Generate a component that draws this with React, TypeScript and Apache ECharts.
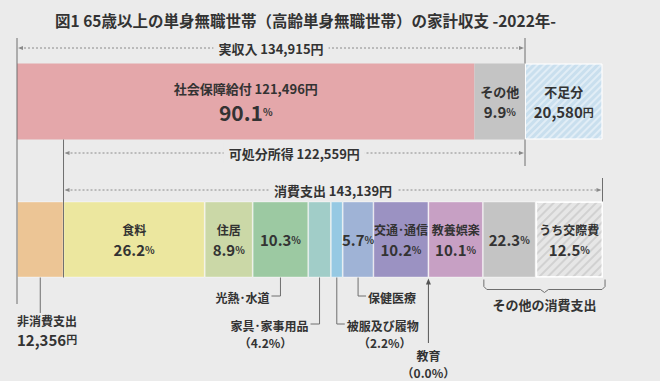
import React, { useEffect, useRef } from 'react';
import * as echarts from 'echarts';

// ---------- data ----------
const titleText = '図1 65歳以上の単身無職世帯（高齢単身無職世帯）の家計収支 -2022年-';
const rows = ['収入', '支出'];

const actualIncome = 134915;
const incomeNames = ['社会保障給付', 'その他', '不足分'];
const incomeValues = [121496, 13419, 20580];
const incomeShares = [90.1, 9.9];

const nonConsumption = 12356;
const disposableIncome = 122559;
const consumptionTotal = 143139;
const consumptionNames = ['食料', '住居', '光熱・水道', '家具・家事用品', '被服及び履物', '保健医療', '交通・通信', '教育', '教養娯楽', 'その他の消費支出'];
const consumptionShares = [26.2, 8.9, 10.3, 4.2, 2.2, 5.7, 10.2, 0.0, 10.1, 22.3];
const socialShare = 12.5; // うち交際費

// ---------- styles ----------
const FONT = '"Noto Sans CJK JP", "Noto Sans", sans-serif';
const BG = '#ebebeb';
const TXT = '#333333';
const LINE = '#6e6e6e';
const incomeColors = ['#e4a7aa', '#c4c4c4', '#c9dfee'];
const consumptionColors = ['#ece79f', '#cbd8a7', '#9cc9a2', '#a1cdc8', '#96c9e3', '#9fb3d6', '#9b92c2', '#b0b0b0', '#c7a0c4', '#c4c4c4'];
const nonConsColor = '#ecc595';
const socialColor = '#e6e6e6';
const BAR = 76;

const fmt = (n: number) => n.toLocaleString('en-US');

const rich = {
  n: { fontSize: 12, fontWeight: 'bold', color: TXT, fontFamily: FONT, lineHeight: 19 },
  v: { fontSize: 15, fontWeight: 'bold', color: TXT, fontFamily: FONT, lineHeight: 20 },
  b: { fontSize: 21, fontWeight: 'bold', color: TXT, fontFamily: FONT, lineHeight: 26 },
  p: { fontSize: 10, fontWeight: 'bold', color: TXT, fontFamily: FONT },
  t: { fontSize: 13, fontWeight: 'bold', color: TXT, fontFamily: FONT, lineHeight: 20 },
  y: { fontSize: 11, fontWeight: 'bold', color: TXT, fontFamily: FONT },
};

const pctLabel = (name: string | null, v: number) =>
  (name ? `{n|${name}}\n` : '') + `{v|${v.toFixed(1)}}{p|%}`;

export default function App() {
  const ref = useRef<HTMLDivElement>(null);
  useEffect(() => {
    if (!ref.current) return;
    const chart = echarts.init(ref.current, null, { renderer: 'svg' });

    const series: any[] = [];
    const mk = (name: string, data: any[], color: string, label: string | null, extra: any = {}) => ({
      type: 'bar',
      name,
      stack: 'total',
      barWidth: BAR,
      data,
      itemStyle: { color, borderColor: 'rgba(255,255,255,0.55)', borderWidth: 0.8, ...(extra.itemStyle || {}) },
      label: label
        ? { show: true, position: 'inside', formatter: label, rich, fontFamily: FONT }
        : { show: false },
      emphasis: { disabled: true },
      silent: true,
    });

    // income row
    series.push(mk(incomeNames[0], [incomeValues[0], '-'], incomeColors[0],
      `{t|${incomeNames[0]} ${fmt(incomeValues[0])}円}\n{b|${incomeShares[0].toFixed(1)}}{p|%}`,
      { itemStyle: { borderWidth: 0 } }));
    series.push(mk(incomeNames[1], [incomeValues[1], '-'], incomeColors[1],
      `{t|${incomeNames[1]}}\n{v|${incomeShares[1].toFixed(1)}}{p|%}`, { itemStyle: { borderWidth: 0 } }));
    series.push(mk(incomeNames[2], [incomeValues[2], '-'], incomeColors[2],
      `{t|${incomeNames[2]}}\n{v|${fmt(incomeValues[2])}}{y|円}`,
      {
        itemStyle: {
          borderWidth: 1, borderColor: 'rgba(255,255,255,0.7)',
          decal: { symbol: 'rect', symbolSize: 1, dashArrayX: [1, 0], dashArrayY: [2, 3], rotation: -Math.PI / 4, color: 'rgba(255,255,255,0.45)' },
        },
      }));

    // expenditure row
    series.push(mk('非消費支出', ['-', nonConsumption], nonConsColor, null));
    const insideLabels: Record<string, string | null> = {
      '食料': pctLabel('食料', consumptionShares[0]),
      '住居': pctLabel('住居', consumptionShares[1]),
      '光熱・水道': pctLabel(null, consumptionShares[2]),
      '保健医療': pctLabel(null, consumptionShares[5]),
      '交通・通信': pctLabel('交通･通信', consumptionShares[6]),
      '教養娯楽': pctLabel('教養娯楽', consumptionShares[8]),
    };
    consumptionNames.forEach((name, i) => {
      const share = consumptionShares[i];
      if (name === 'その他の消費支出') {
        const rest = share - socialShare;
        series.push(mk(name, ['-', (rest / 100) * consumptionTotal], consumptionColors[i], pctLabel(null, share)));
        series.push(mk('うち交際費', ['-', (socialShare / 100) * consumptionTotal], socialColor,
          pctLabel('うち交際費', socialShare),
          {
            itemStyle: {
              borderWidth: 1.5, borderColor: 'rgba(255,255,255,0.8)',
              decal: { symbol: 'rect', symbolSize: 1, dashArrayX: [1, 0], dashArrayY: [1.2, 4], rotation: -Math.PI / 4, color: 'rgba(190,190,190,0.55)' },
            },
          }));
      } else {
        series.push(mk(name, ['-', (share / 100) * consumptionTotal], consumptionColors[i], insideLabels[name] ?? null));
      }
    });

    const total = actualIncome + incomeValues[2];

    chart.setOption({
      animation: false,
      backgroundColor: BG,
      title: {
        text: titleText,
        left: 50,
        top: 7,
        textStyle: { fontFamily: FONT, fontSize: 15.5, fontWeight: 'bold', color: TXT },
      },
      grid: { left: 17, right: 57.5, top: 32.5, bottom: 72.5, containLabel: false },
      xAxis: { type: 'value', min: 0, max: total, show: false },
      yAxis: { type: 'category', data: rows, inverse: true, show: false },
      series,
    });

    // ---------- annotations positioned through the chart's own scales ----------
    const X = (v: number) => chart.convertToPixel({ xAxisIndex: 0 }, v) as number;
    const Y = (c: string) => chart.convertToPixel({ yAxisIndex: 0 }, c) as number;
    const h = BAR / 2;
    const topT = Y(rows[0]) - h, topB = Y(rows[0]) + h;
    const botT = Y(rows[1]) - h, botB = Y(rows[1]) + h;

    const els: any[] = [];
    const line = (x1: number, y1: number, x2: number, y2: number, extra: any = {}) =>
      els.push({ type: 'line', z: 100, shape: { x1, y1, x2, y2 }, style: { stroke: LINE, lineWidth: 1, ...extra } });
    const tri = (pts: number[][], fill = '#8a8a8a') => els.push({ type: 'polygon', z: 100, shape: { points: pts }, style: { fill } });
    const text = (x: number, y: number, t: string, extra: any = {}) =>
      els.push({
        type: 'text', z: 101, x, y,
        style: { text: t, rich, fill: TXT, font: `bold 12px ${FONT}`, align: 'center', verticalAlign: 'middle', ...extra },
      });
    const arrowSpan = (x1: number, x2: number, y: number, label: string) => {
      line(x1 + 3, y, x2 - 3, y, { stroke: '#8a8a8a', lineDash: [2, 2] });
      tri([[x1 + 1, y], [x1 + 6, y - 2], [x1 + 6, y + 2]]);
      tri([[x2 - 1, y], [x2 - 6, y - 2], [x2 - 6, y + 2]]);
      text((x1 + x2) / 2, y, label, { backgroundColor: BG, padding: [0, 5] });
    };

    const x0 = X(0);
    const xAI = X(actualIncome);
    const xNC = X(nonConsumption);
    const xDI = X(nonConsumption + disposableIncome);
    const xCT = X(nonConsumption + consumptionTotal);

    // vertical guides
    line(x0, 38, x0, 304);
    line(xAI, 38, xAI, topT);
    line(xAI, topB, xAI, 166);
    line(xNC, topB, xNC, botB);
    line(xCT, 178, xCT, botT);

    arrowSpan(x0, xAI, 48, `{t|実収入 ${fmt(actualIncome)}円}`);
    arrowSpan(xNC, xDI, 153, `{t|可処分所得 ${fmt(disposableIncome)}円}`);
    arrowSpan(xNC, xCT, 190, `{t|消費支出 ${fmt(consumptionTotal)}円}`);

    // segment positions in the expenditure row
    const starts: number[] = [];
    const ends: number[] = [];
    let acc = nonConsumption;
    consumptionShares.forEach((s) => {
      starts.push(acc);
      acc += (s / 100) * consumptionTotal;
      ends.push(acc);
    });
    const mid = (i: number) => X((starts[i] + ends[i]) / 2);

    // 非消費支出
    const xNCm = X(nonConsumption / 2);
    line(xNCm, botB, xNCm, 313);
    text(x0, 320, '{n|非消費支出}', { align: 'left' });
    text(x0, 339, `{v|${fmt(nonConsumption)}}{y|円}`, { align: 'left' });

    // 光熱・水道
    const xU = mid(2);
    line(xU, botB, xU, 296);
    line(xU, 296, xU - 9, 296);
    text(xU - 11, 297, `{n|${consumptionNames[2].replace('・', '･')}}`, { align: 'right' });

    // 家具・家事用品
    const xF = mid(3);
    line(xF, botB, xF, 324);
    line(xF, 324, xF - 9, 324);
    text(xF - 11, 325, `{n|家具･家事用品}`, { align: 'right' });
    text(xF - 54, 342, `{n|（${consumptionShares[3].toFixed(1)}%）}`);

    // 被服及び履物
    const xC = mid(4);
    line(xC, botB, xC, 324);
    line(xC, 324, xC + 8, 324);
    text(xC + 10, 325, `{n|${consumptionNames[4]}}`, { align: 'left' });
    text(xC + 48, 342, `{n|（${consumptionShares[4].toFixed(1)}%）}`);

    // 保健医療
    const xH = mid(5);
    line(xH, botB, xH, 296);
    line(xH, 296, xH + 8, 296);
    text(xH + 10, 297, `{n|${consumptionNames[5]}}`, { align: 'left' });

    // 教育 (0.0%)
    const xE = X(starts[7]);
    line(xE, 343, xE, botB + 5, { stroke: '#555' });
    tri([[xE, botB + 1], [xE - 2.5, botB + 7], [xE + 2.5, botB + 7]], '#555');
    text(xE, 355, `{n|${consumptionNames[7]}}`);
    text(xE, 372, `{n|（${consumptionShares[7].toFixed(1)}%）}`);

    // brace for その他の消費支出
    const bx1 = X(starts[9]) + 1;
    const bx2 = X(ends[9]) + 2;
    const bc = (bx1 + bx2) / 2;
    els.push({
      type: 'polyline', z: 100,
      shape: {
        points: [[bx1, botB + 2], [bx1, botB + 9], [bx1 + 3, botB + 12], [bc - 4, botB + 12], [bc, botB + 15],
          [bc + 4, botB + 12], [bx2 - 3, botB + 12], [bx2, botB + 9], [bx2, botB + 2]],
      },
      style: { stroke: LINE, lineWidth: 1, fill: 'none' },
    });
    text(bc, 304, `{t|${consumptionNames[9]}}`);

    chart.setOption({ graphic: { elements: els } });

    return () => chart.dispose();
  }, []);

  return <div ref={ref} style={{ position: 'fixed', left: 0, top: 0, width: 660, height: 381 }} />;
}
